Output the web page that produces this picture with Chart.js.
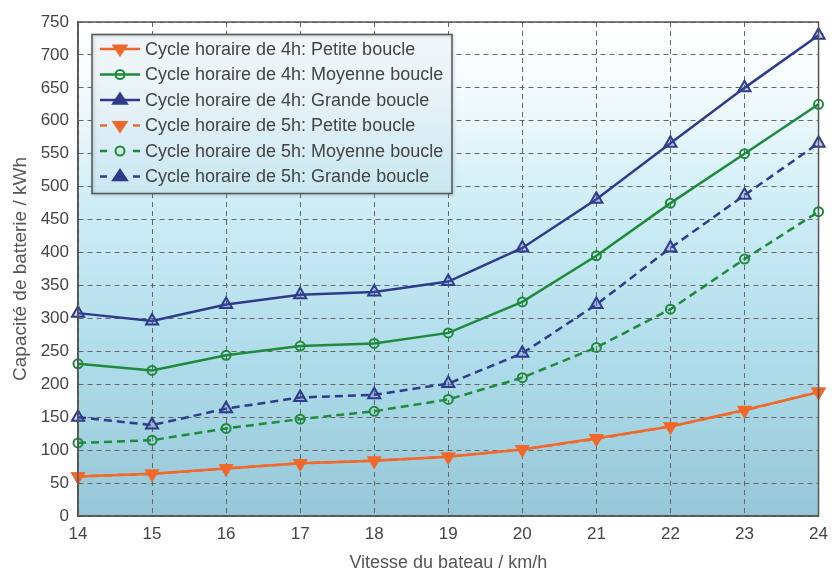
<!DOCTYPE html>
<html>
<head>
<meta charset="utf-8">
<script src="https://cdn.jsdelivr.net/npm/chart.js@4/dist/chart.umd.min.js"></script>
<style>
  html,body{margin:0;padding:0;background:#fff;}
  #wrap{width:836px;height:572px;position:relative;}
</style>
</head>
<body>
<div id="wrap"><canvas id="c" width="836" height="572"></canvas></div>
<script>
const speeds = ['14','15','16','17','18','19','20','21','22','23','24'];
const petite4h  = [60, 64, 72, 80, 84, 90, 101, 118, 136, 161, 188];
const moyenne4h = [231, 221, 244, 258, 262, 278, 325, 395, 475, 550, 625];
const grande4h  = [308, 296, 321, 336, 340, 356, 407, 481, 566, 650, 730];
const petite5h  = [60, 64, 72, 80, 84, 90, 101, 117, 136, 160, 189];
const moyenne5h = [111, 115, 133, 147, 159, 177, 210, 256, 314, 390, 462];
const grande5h  = [150, 138, 163, 180, 184, 201, 247, 321, 407, 487, 566];
const seriesLabels = [
  'Cycle horaire de 4h: Petite boucle',
  'Cycle horaire de 4h: Moyenne boucle',
  'Cycle horaire de 4h: Grande boucle',
  'Cycle horaire de 5h: Petite boucle',
  'Cycle horaire de 5h: Moyenne boucle',
  'Cycle horaire de 5h: Grande boucle'
];
const yTicks = {min: 0, max: 750, step: 50};

const FONT = '"Liberation Sans", Arial, sans-serif';
const ORANGE = '#f0682a', GREEN = '#1f8a3b', BLUE = '#2f3b8c';
const DASH = [8, 5];

function ds(label, data, color, kind, dashed) {
  const o = {
    label, data,
    borderColor: color,
    borderWidth: 2.5,
    borderDash: dashed ? DASH : [],
    pointBorderColor: color,
    pointBorderWidth: 2,
    tension: 0,
    fill: false,
    kind: kind
  };
  if (kind === 'down') {
    o.pointStyle = 'triangle'; o.rotation = 180; o.pointRadius = 6.5;
    o.pointBackgroundColor = color;
  } else if (kind === 'circle') {
    o.pointStyle = 'circle'; o.pointRadius = 4.5;
    o.pointBackgroundColor = 'rgba(0,0,0,0)';
  } else {
    o.pointStyle = 'triangle'; o.pointRadius = 7;
    o.pointBackgroundColor = 'rgba(80,90,170,0.25)';
  }
  return o;
}

const datasets = [
  ds(seriesLabels[3], petite5h, ORANGE, 'down', true),
  ds(seriesLabels[4], moyenne5h, GREEN, 'circle', true),
  ds(seriesLabels[5], grande5h, BLUE, 'up', true),
  ds(seriesLabels[0], petite4h, ORANGE, 'down', false),
  ds(seriesLabels[1], moyenne4h, GREEN, 'circle', false),
  ds(seriesLabels[2], grande4h, BLUE, 'up', false)
];
const legendOrder = [3, 4, 5, 0, 1, 2];

function makeGradient(ctx, a) {
  const g = ctx.createLinearGradient(0, a.top, 0, a.bottom);
  g.addColorStop(0, '#ffffff');
  g.addColorStop(0.12, '#f7fcfe');
  g.addColorStop(0.38, '#cdedf6');
  g.addColorStop(0.7, '#addbe9');
  g.addColorStop(1, '#96c7d8');
  return g;
}

const bgPlugin = {
  id: 'bg',
  beforeDraw(chart) {
    const {ctx, chartArea: a} = chart;
    ctx.save();
    ctx.fillStyle = makeGradient(ctx, a);
    ctx.fillRect(a.left, a.top, a.right - a.left, a.bottom - a.top);
    ctx.restore();
  },
  afterDatasetsDraw(chart) {
    const {ctx, chartArea: a} = chart;
    ctx.save();
    ctx.strokeStyle = '#555';
    ctx.lineWidth = 1.5;
    ctx.strokeRect(a.left, a.top, a.right - a.left, a.bottom - a.top);
    ctx.restore();
  }
};

function marker(ctx, kind, color, x, y) {
  ctx.save();
  ctx.strokeStyle = color;
  ctx.lineWidth = 2;
  ctx.setLineDash([]);
  ctx.beginPath();
  if (kind === 'circle') {
    ctx.arc(x, y, 4.5, 0, Math.PI * 2);
    ctx.stroke();
  } else if (kind === 'down') {
    const r = 6.5;
    ctx.moveTo(x - r, y - r * 0.55);
    ctx.lineTo(x + r, y - r * 0.55);
    ctx.lineTo(x, y + r * 0.95);
    ctx.closePath();
    ctx.fillStyle = color; ctx.fill(); ctx.stroke();
  } else {
    const r = 7;
    ctx.moveTo(x - r, y + r * 0.55);
    ctx.lineTo(x + r, y + r * 0.55);
    ctx.lineTo(x, y - r * 0.95);
    ctx.closePath();
    ctx.fillStyle = color; ctx.fill(); ctx.stroke();
  }
  ctx.restore();
}

const legendPlugin = {
  id: 'boxLegend',
  afterDraw(chart) {
    const ctx = chart.ctx;
    const bx = 92, by = 34.5, bw = 360, bh = 159;
    ctx.save();
    ctx.fillStyle = makeGradient(ctx, chart.chartArea);
    ctx.fillRect(bx, by, bw, bh);
    ctx.fillStyle = 'rgba(90,140,165,0.07)';
    ctx.fillRect(bx, by, bw, bh);
    ctx.shadowColor = 'rgba(0,0,0,0.25)';
    ctx.shadowBlur = 3;
    ctx.shadowOffsetX = 1; ctx.shadowOffsetY = 1;
    ctx.strokeStyle = '#555';
    ctx.lineWidth = 1.5;
    ctx.strokeRect(bx, by, bw, bh);
    ctx.restore();
    ctx.save();
    ctx.font = '18px ' + FONT;
    ctx.textBaseline = 'middle';
    legendOrder.forEach((di, i) => {
      const d = chart.data.datasets[di];
      const y = 49 + i * 25.5;
      ctx.save();
      ctx.strokeStyle = d.borderColor;
      ctx.lineWidth = 2.5;
      ctx.beginPath();
      if (d.borderDash.length) {
        ctx.moveTo(100, y); ctx.lineTo(107, y);
        ctx.moveTo(133, y); ctx.lineTo(140, y);
      } else {
        ctx.moveTo(100, y); ctx.lineTo(140, y);
      }
      ctx.stroke();
      ctx.restore();
      marker(ctx, d.kind, d.borderColor, 120, y);
      ctx.fillStyle = '#444';
      ctx.fillText(d.label, 145, y + 1);
    });
    ctx.restore();
  }
};

const chart = new Chart(document.getElementById('c'), {
  type: 'line',
  data: { labels: speeds, datasets },
  options: {
    responsive: false,
    animation: false,
    layout: { padding: { top: 22, right: 10, left: 0, bottom: 0 } },
    plugins: { legend: { display: false }, tooltip: { enabled: false } },
    scales: {
      x: {
        offset: false,
        grid: { color: '#666', lineWidth: 1, drawTicks: false, offset: false },
        border: { display: true, color: '#555', width: 1.5, dash: [5, 4] },
        ticks: { color: '#444', font: { family: FONT, size: 17 }, padding: 8, maxRotation: 0 },
        title: { display: true, text: 'Vitesse du bateau / km/h', color: '#555',
                 font: { family: FONT, size: 18, lineHeight: 1.0 }, padding: { top: 4, bottom: 0 } },
        afterFit(s) { s.height = 56; }
      },
      y: {
        min: yTicks.min, max: yTicks.max,
        grid: { color: '#666', lineWidth: 1, drawTicks: false },
        border: { display: true, color: '#555', width: 1.5, dash: [5, 4] },
        ticks: { stepSize: yTicks.step, color: '#444', padding: 9,
                 font: { family: FONT, size: 17 } },
        title: { display: true, text: 'Capacité de batterie / kWh', color: '#555',
                 font: { family: FONT, size: 19, lineHeight: 1.0 }, padding: { top: 11, bottom: 0 } },
        afterFit(s) { s.width = 78; }
      }
    }
  },
  plugins: [bgPlugin, legendPlugin]
});
</script>
</body>
</html>
